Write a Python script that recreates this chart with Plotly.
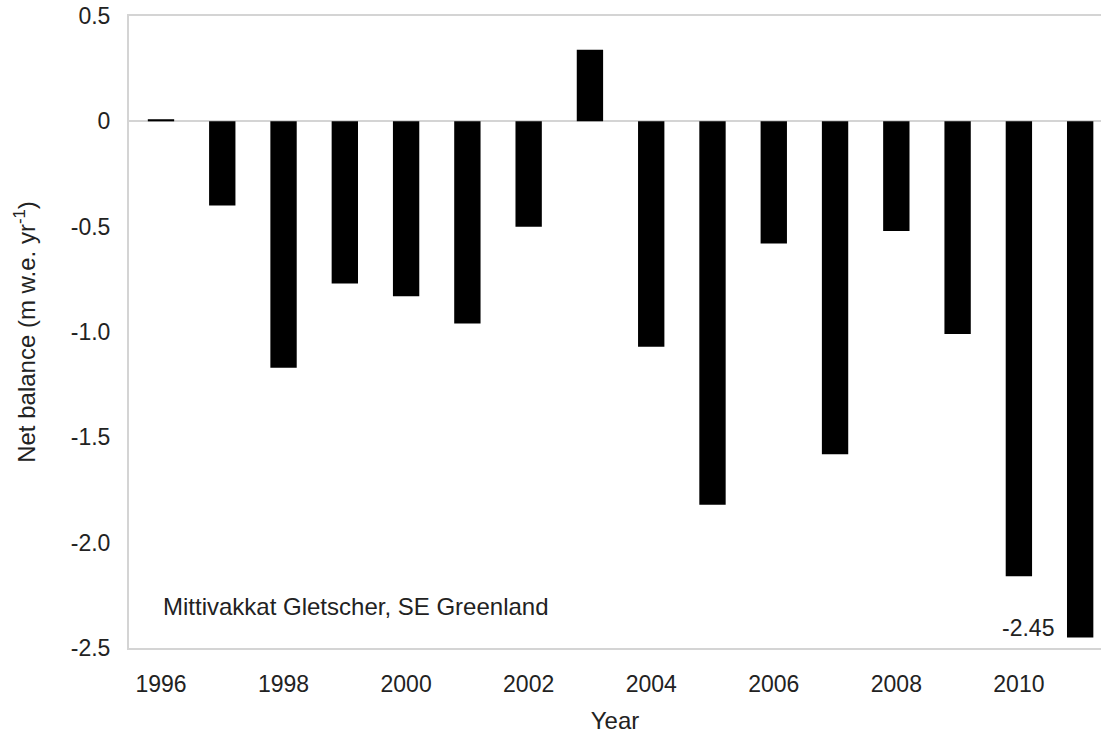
import plotly.graph_objects as go

years = list(range(1996, 2012))
net_balance = [0.01, -0.40, -1.17, -0.77, -0.83, -0.96, -0.50, 0.34,
               -1.07, -1.82, -0.58, -1.58, -0.52, -1.01, -2.16, -2.45]
y_ticks = [0.5, 0, -0.5, -1.0, -1.5, -2.0, -2.5]
y_tick_labels = ["0.5", "0", "-0.5", "-1.0", "-1.5", "-2.0", "-2.5"]
x_ticks = list(range(1996, 2011, 2))

FONT = "Liberation Sans, Arial, sans-serif"
GRAY = "#d4d4d4"
TXT = "#222222"

fig = go.Figure(go.Bar(x=years, y=net_balance, marker=dict(color="black", line=dict(width=0)),
                       width=0.43))

fig.add_annotation(x=years[-1], y=net_balance[-1], text="-2.45", showarrow=False,
                   xanchor="right", yanchor="bottom", xshift=-24, yshift=-6,
                   font=dict(family=FONT, size=23, color=TXT))
fig.add_annotation(x=1996, y=-2.305, text="Mittivakkat Gletscher, SE Greenland", showarrow=False,
                   xanchor="left", yanchor="middle", xshift=0,
                   font=dict(family=FONT, size=24, color=TXT))

fig.update_layout(
    width=1101, height=734,
    margin=dict(l=129, r=0, t=16, b=86),
    plot_bgcolor="white", paper_bgcolor="white",
    showlegend=False,
    font=dict(family=FONT, size=23, color=TXT),
    xaxis=dict(range=[1995.478, 2011.34], tickvals=x_ticks, ticktext=[str(v) for v in x_ticks],
               showgrid=False, zeroline=False, showline=True, mirror=True, automargin=False,
               linecolor=GRAY, linewidth=2, ticks="outside", ticklen=14, tickcolor="rgba(0,0,0,0)",
               tickfont=dict(family=FONT, size=23, color=TXT), ticklabeloverflow="allow",
               title=dict(text="Year", font=dict(family=FONT, size=24, color=TXT), standoff=17)),
    yaxis=dict(range=[-2.5, 0.5], tickvals=y_ticks, ticktext=y_tick_labels, automargin=False,
               showgrid=False, zeroline=True, zerolinecolor=GRAY, zerolinewidth=2,
               showline=True, linecolor=GRAY, linewidth=2, ticks="outside", ticklen=12,
               tickcolor="rgba(0,0,0,0)", ticklabeloverflow="allow",
               tickfont=dict(family=FONT, size=23, color=TXT),
               title=dict(text="Net balance (m w.e. yr<sup>-1</sup>)",
                          font=dict(family=FONT, size=24, color=TXT), standoff=28)),
)

fig.write_html("out.html", post_script="document.body.style.margin='0';",
               config={"displayModeBar": False})
